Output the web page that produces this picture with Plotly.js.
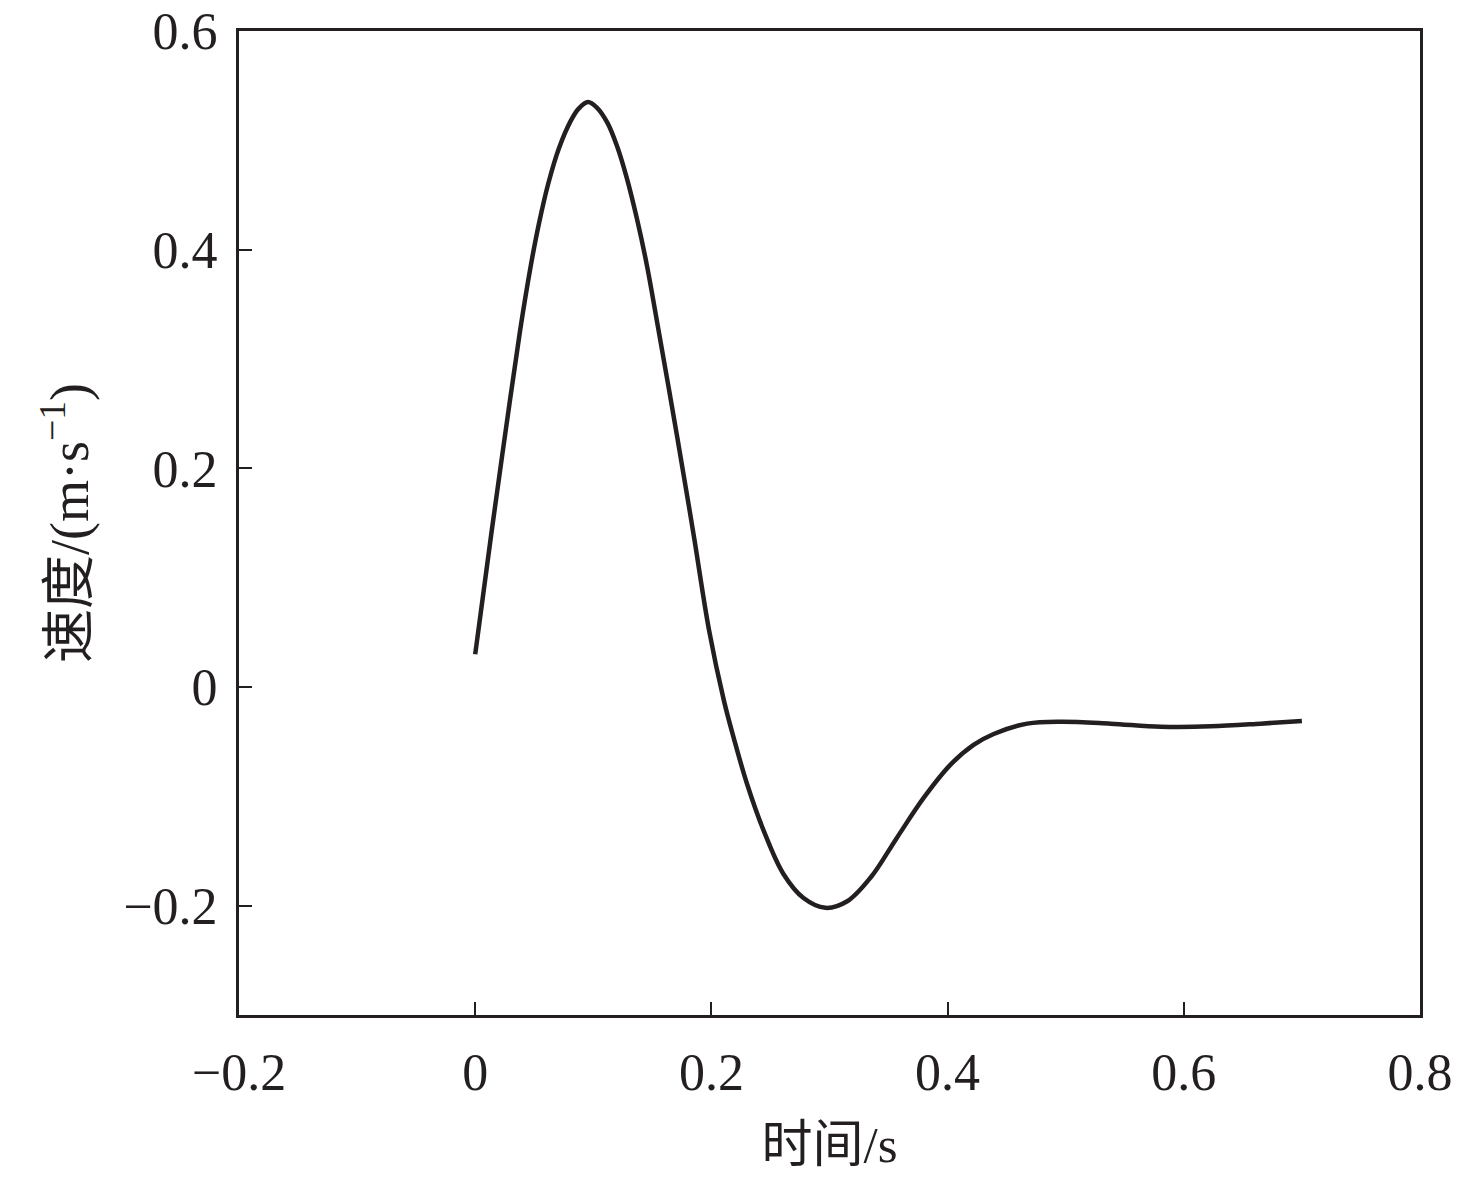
<!DOCTYPE html>
<html>
<head>
<meta charset="utf-8">
<script src="https://cdn.plot.ly/plotly-3.0.1.min.js"></script>
<style>
  html, body { margin: 0; padding: 0; background: #fff; }
  #chart { width: 1476px; height: 1179px; }
</style>
</head>
<body>
<div id="chart"></div>
<script>
// time (s) and velocity (m/s)
const timeS = [0, 0.014, 0.026, 0.038, 0.047, 0.054, 0.062, 0.071, 0.081, 0.0876, 0.0955, 0.103, 0.112, 0.120, 0.1285,
  0.137, 0.1455, 0.154, 0.171, 0.185, 0.198, 0.2105, 0.219, 0.230, 0.2445, 0.261, 0.278, 0.2966, 0.315,
  0.335, 0.357, 0.380, 0.4025, 0.422, 0.439, 0.4675, 0.496, 0.538, 0.5805, 0.623, 0.665, 0.70];
const velocity = [0.030, 0.143, 0.236, 0.326, 0.385, 0.424, 0.461, 0.493, 0.518, 0.529, 0.535, 0.530, 0.516, 0.495, 0.465,
  0.428, 0.385, 0.334, 0.229, 0.139, 0.052, -0.012, -0.047, -0.088, -0.132, -0.171, -0.193, -0.202, -0.196,
  -0.174, -0.138, -0.101, -0.071, -0.053, -0.043, -0.0335, -0.0317, -0.0335, -0.0363, -0.036, -0.0335, -0.031];

const xTicks = [-0.2, 0, 0.2, 0.4, 0.6, 0.8];
const xTickText = ["\u22120.2", "0", "0.2", "0.4", "0.6", "0.8"];
const yTicks = [-0.2, 0, 0.2, 0.4, 0.6];
const yTickText = ["\u22120.2", "0", "0.2", "0.4", "0.6"];

const ink = "#231f20";
const fontFam = "'Liberation Serif', 'Times New Roman', 'Noto Sans CJK SC', serif";

const trace = {
  x: timeS,
  y: velocity,
  mode: "lines",
  type: "scatter",
  line: { color: ink, width: 4.5, shape: "spline", smoothing: 1 },
  hoverinfo: "skip"
};

const axisBase = {
  showgrid: false,
  zeroline: false,
  showline: true,
  linecolor: ink,
  linewidth: 3,
  mirror: true,
  ticks: "inside",
  ticklen: 13,
  tickwidth: 2,
  tickcolor: ink,
  automargin: false,
  tickfont: { family: fontFam, size: 52, color: ink }
};

const layout = {
  width: 1476,
  height: 1179,
  margin: { l: 239, r: 56, t: 31, b: 164 },
  paper_bgcolor: "#fff",
  plot_bgcolor: "#fff",
  showlegend: false,
  xaxis: Object.assign({}, axisBase, {
    range: [-0.2, 0.8],
    tickvals: xTicks,
    ticktext: xTickText,
    ticklabelstandoff: 10,
    title: { text: "时间/s", font: { family: fontFam, size: 51, color: ink }, standoff: 26 }
  }),
  yaxis: Object.assign({}, axisBase, {
    range: [-0.3, 0.6],
    tickvals: yTicks,
    ticktext: yTickText,
    ticklabelstandoff: 8,
    title: { text: "速度/(m·s<sup>−1</sup>)", font: { family: fontFam, size: 54, color: ink }, standoff: 18 }
  })
};

Plotly.newPlot("chart", [trace], layout, { staticPlot: true, displayModeBar: false });
</script>
</body>
</html>
